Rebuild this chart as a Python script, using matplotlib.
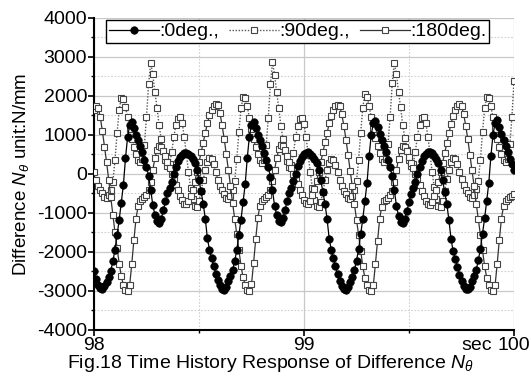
import matplotlib
matplotlib.use("Agg")
import matplotlib.pyplot as plt
from matplotlib.ticker import MultipleLocator
import numpy as np

plt.rcParams['font.family'] = ['Liberation Sans', 'DejaVu Sans']
plt.rcParams['mathtext.fontset'] = 'custom'
plt.rcParams['mathtext.it'] = 'Liberation Sans:italic'
plt.rcParams['mathtext.rm'] = 'Liberation Sans'
plt.rcParams['axes.unicode_minus'] = False

# time base (s)
t_start = 98.0
dt = 0.01
n_pts = 201

# Difference N_theta at 0 deg (N/mm)
deg0 = [
    -2500, -2700, -2850, -2930,
    -2950, -2880, -2760, -2640, -2480, -2240, -1940, -1560, -1180, -740,
    -280, 400, 950, 1250, 1330, 1180, 1000, 870, 720, 550,
    370, 180, -50, -400, -800, -1050, -1200, -1260, -1150, -930,
    -700, -500, -360, -200, 0, 190, 330, 430, 490, 530,
    540, 520, 470, 390, 290, 100, -150, -450, -760, -1150,
    -1650, -1950, -2150, -2360, -2560, -2730, -2860, -2940,
    -2970, -2890, -2740, -2620, -2470, -2230, -1950, -1570, -1170, -720,
    -260, 420, 960, 1260, 1320, 1170, 1010, 860, 710, 540,
    360, 170, -70, -420, -820, -1060, -1210, -1240, -1140, -920,
    -690, -500, -350, -190, 10, 200, 340, 440, 500, 540,
    550, 520, 460, 380, 280, 90, -160, -460, -770, -1160,
    -1660, -1960, -2160, -2370, -2570, -2740, -2870, -2950,
    -2980, -2900, -2760, -2630, -2470, -2220, -1930, -1550, -1150, -700,
    -240, 450, 1000, 1300, 1370, 1200, 1020, 880, 720, 550,
    370, 170, -60, -410, -810, -1070, -1220, -1270, -1160, -940,
    -710, -510, -360, -200, 0, 190, 340, 450, 510, 550,
    560, 530, 470, 390, 280, 90, -160, -470, -780, -1170,
    -1670, -1970, -2170, -2380, -2580, -2750, -2870, -2950,
    -2960, -2890, -2750, -2620, -2460, -2210, -1920, -1540, -1140, -690,
    -230, 460, 1010, 1310, 1380, 1210, 1030, 880, 720, 560,
    380, 250, 100,
]

# Difference N_theta at 90 deg (N/mm)
deg90 = [
    50, -150, -300, -420,
    -500, -600, -620, -550, -400, -200, 350, 1050, 1650, 1950,
    1930, 1720, 1450, 1150, 900, 700, 520, 370, 300, 380,
    750, 1450, 2300, 2850, 2550, 2100, 1700, 1250, 900, 600,
    350, 200, 250, 550, 950, 1250, 1420, 1450, 1300, 950,
    500, 50, -350, -650, -820, -850, -700, -450, -150, 100,
    300, 400, 380, 250, 50, -150, -300, -420,
    -510, -610, -630, -560, -400, -180, 380, 1080, 1680, 1970,
    1940, 1730, 1440, 1140, 890, 690, 510, 360, 290, 370,
    740, 1440, 2310, 2860, 2540, 2090, 1690, 1240, 890, 590,
    340, 190, 240, 540, 940, 1240, 1410, 1440, 1290, 940,
    490, 40, -360, -660, -830, -860, -710, -460, -160, 90,
    290, 390, 370, 240, 40, -160, -310, -430,
    -520, -620, -640, -570, -410, -190, 360, 1060, 1700, 2050,
    1980, 1740, 1460, 1160, 910, 710, 530, 380, 310, 390,
    760, 1460, 2320, 2850, 2560, 2110, 1710, 1260, 910, 610,
    360, 210, 260, 560, 960, 1260, 1430, 1460, 1310, 960,
    510, 60, -340, -640, -810, -840, -690, -440, -140, 110,
    310, 410, 390, 260, 60, -140, -290, -410,
    -500, -600, -620, -550, -390, -170, 370, 1070, 1680, 1980,
    1950, 1730, 1450, 1150, 900, 700, 520, 370, 300, 380,
    760, 1460, 2380,
]

# Difference N_theta at 180 deg (N/mm)
deg180 = [
    1650, 1750, 1700, 1450, 1100, 700, 300, -150, -600, -1050,
    -1500, -1900, -2300, -2620, -2850, -2980,
    -3000, -2850, -2300, -1700, -1150, -830, -700, -650, -600, -540,
    -420, -200, 100, 400, 620, 720, 700, 600, 450, 300,
    150, 0, -120, -280, -420, -560, -680, -760, -780, -700,
    -560, -400, -200, 50, 300, 550, 800, 1050, 1300, 1500,
    1650, 1750, 1800, 1760, 1550, 1250, 900, 500, 100, -300,
    -750, -1150, -1550, -1950, -2350, -2650, -2850, -2980,
    -2990, -2830, -2280, -1680, -1130, -820, -690, -640, -590, -530,
    -410, -190, 110, 410, 640, 730, 710, 610, 460, 310,
    160, 10, -110, -270, -410, -550, -670, -750, -770, -690,
    -550, -390, -190, 60, 310, 560, 810, 1060, 1300, 1480,
    1630, 1730, 1780, 1740, 1530, 1230, 880, 480, 80, -320,
    -770, -1170, -1570, -1970, -2370, -2670, -2860, -2980,
    -3000, -2860, -2310, -1720, -1160, -840, -700, -660, -610, -550,
    -430, -210, 90, 390, 610, 710, 700, 590, 440, 290,
    140, -10, -130, -290, -430, -570, -690, -770, -790, -710,
    -570, -410, -210, 40, 290, 540, 790, 1040, 1290, 1490,
    1640, 1740, 1790, 1750, 1540, 1240, 890, 490, 90, -310,
    -760, -1160, -1560, -1960, -2360, -2660, -2860, -2980,
    -2990, -2850, -2300, -1700, -1150, -830, -700, -650, -600, -560,
    -520,
]

labels = [":0deg.,", ":90deg.,", ":180deg."]
x_ticks = [98, 99, 100]
x_tick_labels = ["98", "99", "100"]
y_ticks = [-4000, -3000, -2000, -1000, 0, 1000, 2000, 3000, 4000]

t = t_start + dt * np.arange(n_pts)

fig = plt.figure(figsize=(5.31, 3.90), dpi=100)
ax = fig.add_axes([0.177, 0.154, 0.791, 0.800])

ax.plot(t, deg90, linestyle=(0, (1, 1.2)), color='#555555', lw=1.0,
        marker='s', ms=5.0, mfc='white', mec='#444444', mew=0.8, label=labels[1], zorder=3)
ax.plot(t, deg180, linestyle='-', color='#333333', lw=0.9,
        marker='s', ms=5.0, mfc='white', mec='#444444', mew=0.8, label=labels[2], zorder=3)
ax.plot(t, deg0, linestyle='-', color='black', lw=0.9,
        marker='o', ms=5.4, mfc='black', mec='black', mew=0.5, label=labels[0], zorder=4)

ax.set_xlim(98, 100)
ax.set_ylim(-4000, 4000)
ax.set_xticks(x_ticks)
ax.set_xticklabels(x_tick_labels)
ax.set_yticks(y_ticks)
ax.xaxis.set_minor_locator(MultipleLocator(0.5))
ax.yaxis.set_minor_locator(MultipleLocator(500))

ax.grid(which='major', color='#c8c8c8', lw=0.9, ls='-')
ax.grid(which='minor', color='#d0d0d0', lw=0.8, ls=(0, (1.5, 1.5)))
ax.set_axisbelow(True)

for s in ['top', 'right']:
    ax.spines[s].set_visible(False)
for s in ['left', 'bottom']:
    ax.spines[s].set_linewidth(1.5)
ax.tick_params(which='major', direction='out', length=4, width=1.2, labelsize=14, pad=1)
ax.tick_params(which='minor', direction='out', length=2.5, width=1.0)

ax.set_ylabel(r"Difference $N_{\theta}$ unit:N/mm", fontsize=13.5, labelpad=4)

ax.annotate("sec", xy=(100, 0), xycoords=('data', 'axes fraction'),
            xytext=(-16, -5), textcoords='offset points', ha='right', va='top', fontsize=14)

h, l = ax.get_legend_handles_labels()
order = [2, 0, 1]
leg = ax.legend([h[i] for i in order], [l[i] for i in order], loc='upper center',
                bbox_to_anchor=(0.485, 1.0), ncol=3, fontsize=14, frameon=True, fancybox=False,
                edgecolor='black', framealpha=1, handlelength=2.6, handletextpad=0.0,
                columnspacing=0.5, borderpad=0.15, borderaxespad=0.1)
leg.get_frame().set_linewidth(1.0)

fig.text(0.51, 0.068, r"Fig.18 Time History Response of Difference $N_{\theta}$",
         ha='center', va='center', fontsize=14)

fig.savefig("out.png", dpi=100)
